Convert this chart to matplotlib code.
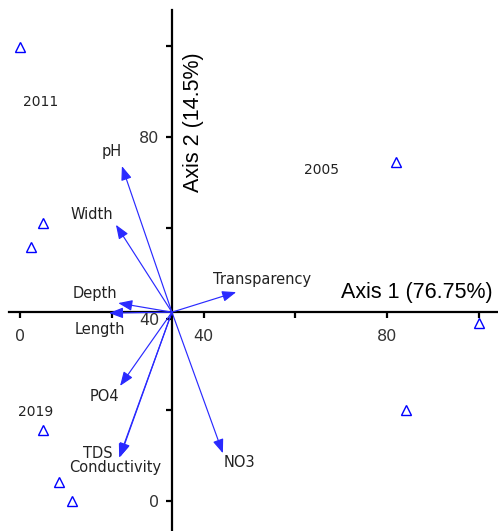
import matplotlib
matplotlib.use("Agg")
import matplotlib.pyplot as plt

# Site scores (triangles)
site_x = [0.0, 81.9, 5.0, 2.4, 100.0, 84.1, 5.0, 8.5, 11.3]
site_y = [99.8, 74.5, 61.1, 55.8, 39.1, 20.0, 15.6, 4.2, 0.0]

# Year group labels
years = ["2011", "2005", "2019"]
year_x = [4.4, 65.6, 3.3]
year_y = [87.7, 72.7, 19.6]

# Biplot vectors (origin + tips)
origin = (33.1, 41.5)
vars_ = ["pH", "Width", "Transparency", "Depth", "Length", "PO4", "TDS", "Conductivity", "NO3"]
tip_x = [22.2, 20.9, 47.1, 21.4, 19.4, 21.8, 21.8, 21.6, 44.2]
tip_y = [73.6, 60.7, 45.9, 43.5, 41.3, 25.3, 9.7, 9.5, 10.5]
lab_x = [20.0, 15.7, 52.7, 16.3, 17.4, 18.3, 17.0, 20.7, 47.9]
lab_y = [76.7, 62.9, 48.6, 45.7, 37.6, 22.9, 10.5, 7.3, 8.4]

ticks = [0, 20, 40, 60, 80, 100]
tick_labels = ["0", "", "40", "", "80", ""]

blue = "#0000ff"
txt = "#222222"

fig = plt.figure(figsize=(4.98, 5.31), dpi=100)
ax = fig.add_axes([0, 0, 1, 1])
ax.set_xlim(-4.36, 104.14)
ax.set_ylim(-6.59, 110.1)

# axes crossing at the centroid
for s in ["top", "right"]:
    ax.spines[s].set_visible(False)
ax.spines["left"].set_position(("data", origin[0]))
ax.spines["bottom"].set_position(("data", origin[1]))
ax.spines["left"].set_bounds(-6.59, 107.9)
ax.spines["bottom"].set_bounds(-2.4, 104.14)
for s in ["left", "bottom"]:
    ax.spines[s].set_linewidth(1.6)
    ax.spines[s].set_color("black")

ax.set_xticks(ticks)
ax.set_xticklabels(tick_labels)
ax.set_yticks(ticks)
ax.set_yticklabels(tick_labels)
ax.tick_params(direction="out", length=4, width=1.6, color="black",
               labelsize=11.5, labelcolor="#333333")
ax.tick_params(axis="x", pad=8)
ax.tick_params(axis="y", pad=5)

# sites
ax.plot(site_x, site_y, linestyle="none", marker="^", markersize=7.5,
        markerfacecolor="none", markeredgecolor=blue, markeredgewidth=1.0)

for t, x, y in zip(years, year_x, year_y):
    ax.text(x, y, t, ha="center", va="center", fontsize=10, color=txt)

# vectors
for name, tx, ty, lx, ly in zip(vars_, tip_x, tip_y, lab_x, lab_y):
    ax.annotate("", xy=(tx, ty), xytext=origin,
                arrowprops=dict(arrowstyle="-|>,head_length=0.65,head_width=0.25",
                                color="#2a2aff", lw=0.85,
                                mutation_scale=13, shrinkA=0, shrinkB=0))
    ax.text(lx, ly, name, ha="center", va="center", fontsize=10.5, color=txt)

# axis titles
ax.text(86.5, 45.9, "Axis 1 (76.75%)", ha="center", va="center",
        fontsize=15.5, family="Liberation Sans", color="black")
ax.text(37.7, 83.3, "Axis 2 (14.5%)", ha="center", va="center", rotation=90,
        fontsize=15.5, family="Liberation Sans", color="black")

fig.savefig("out.png", dpi=100)
